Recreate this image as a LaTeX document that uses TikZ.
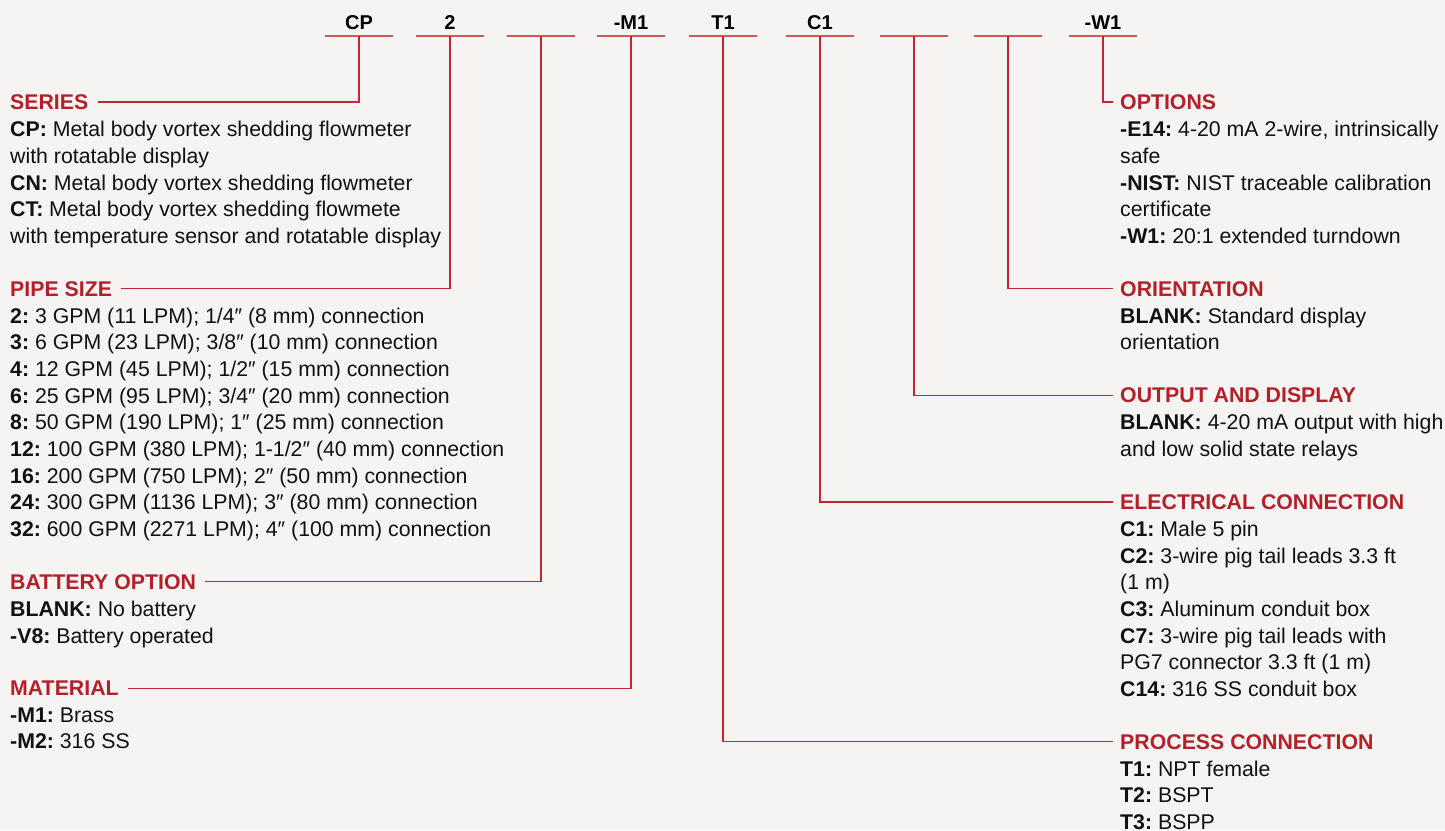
\documentclass[tikz,border=0pt]{standalone}
\usepackage{fontspec}
\setmainfont{Liberation Sans}
\usetikzlibrary{positioning}
\definecolor{bgpaper}{HTML}{F5F4F2}
\definecolor{headred}{HTML}{B3202A}
\definecolor{linered}{HTML}{C0282E}
\definecolor{ulred}{HTML}{C95A5C}
\definecolor{bodyblack}{HTML}{111111}
\frenchspacing
\tikzset{
	code/.style={font=\fontsize{20}{24}\selectfont\bfseries, minimum width=67pt,
		inner sep=0pt, text height=14pt, text depth=6pt, anchor=south},
	uline/.style={draw=ulred, line width=2.5pt},
	link/.style={draw=linered, line width=1.4pt},
	head/.style={font=\fontsize{21.3}{26.65}\selectfont\bfseries, text=headred,
		inner sep=0pt, text height=15.2pt, text depth=0pt, anchor=base west},
	body/.style={font=\fontsize{21.3}{26.65}\selectfont, text=bodyblack,
		inner sep=0pt, align=left, anchor=north west,
		execute at begin node={\rule{0pt}{16pt}}}
}

\begin{document}
\begin{tikzpicture}[x=1pt,y=-1pt]
\useasboundingbox (0,0) rectangle (1445,830);
\fill[bgpaper] (0,0) rectangle (1445,830);

%model code slots
\node[code] (codeseries) at (359,36) {CP};
\node[code] (codesize) at (450,36) {2};
\node[code] (codebattery) at (541,36) {};
\node[code] (codematerial) at (631,36) {-M1};
\node[code] (codeprocess) at (723,36) {T1};
\node[code] (codeelec) at (820,36) {C1};
\node[code] (codeoutput) at (914,36) {};
\node[code] (codeorient) at (1008,36) {};
\node[code] (codeoptions) at (1103,36) {-W1};
\foreach \n in {codeseries,codesize,codebattery,codematerial,codeprocess,codeelec,codeoutput,codeorient,codeoptions}
{
	\draw[uline] (\n.south west) -- (\n.south east);
}

%left column
\node[head] (series) at (10,109.6) {SERIES};
\node[body] (seriestext) at ([yshift=-11.5pt]series.base west) {%
\textbf{CP:} Metal body vortex shedding flowmeter\\
with rotatable display\\
\textbf{CN:} Metal body vortex shedding flowmeter\\
\textbf{CT:} Metal body vortex shedding flowmete\\
with temperature sensor and rotatable display};

\node[head] (pipesize) at (10,296.2) {PIPE SIZE};
\node[body] (pipesizetext) at ([yshift=-11.5pt]pipesize.base west) {%
\textbf{2:} 3 GPM (11 LPM); 1/4″ (8 mm) connection\\
\textbf{3:} 6 GPM (23 LPM); 3/8″ (10 mm) connection\\
\textbf{4:} 12 GPM (45 LPM); 1/2″ (15 mm) connection\\
\textbf{6:} 25 GPM (95 LPM); 3/4″ (20 mm) connection\\
\textbf{8:} 50 GPM (190 LPM); 1″ (25 mm) connection\\
\textbf{12:} 100 GPM (380 LPM); 1-1/2″ (40 mm) connection\\
\textbf{16:} 200 GPM (750 LPM); 2″ (50 mm) connection\\
\textbf{24:} 300 GPM (1136 LPM); 3″ (80 mm) connection\\
\textbf{32:} 600 GPM (2271 LPM); 4″ (100 mm) connection};

\node[head] (battery) at (10,589.3) {BATTERY OPTION};
\node[body] (batterytext) at ([yshift=-11.5pt]battery.base west) {%
\textbf{BLANK:} No battery\\
\textbf{-V8:} Battery operated};

\node[head] (material) at (10,695.9) {MATERIAL};
\node[body] (materialtext) at ([yshift=-11.5pt]material.base west) {%
\textbf{-M1:} Brass\\
\textbf{-M2:} 316 SS};

%right column
\node[head] (options) at (1120,109.6) {OPTIONS};
\node[body] (optionstext) at ([yshift=-11.5pt]options.base west) {%
\textbf{-E14:} 4-20 mA 2-wire, intrinsically\\
safe\\
\textbf{-NIST:} NIST traceable calibration\\
certificate\\
\textbf{-W1:} 20:1 extended turndown};

\node[head] (orientation) at (1120,296.2) {ORIENTATION};
\node[body] (orientationtext) at ([yshift=-11.5pt]orientation.base west) {%
\textbf{BLANK:} Standard display\\
orientation};

\node[head] (output) at (1120,402.8) {OUTPUT AND DISPLAY};
\node[body] (outputtext) at ([yshift=-11.5pt]output.base west) {%
\textbf{BLANK:} 4-20 mA output with high\\
and low solid state relays};

\node[head] (electrical) at (1120,509.4) {ELECTRICAL CONNECTION};
\node[body] (electricaltext) at ([yshift=-11.5pt]electrical.base west) {%
\textbf{C1:} Male 5 pin\\
\textbf{C2:} 3-wire pig tail leads 3.3 ft\\
(1 m)\\
\textbf{C3:} Aluminum conduit box\\
\textbf{C7:} 3-wire pig tail leads with\\
PG7 connector 3.3 ft (1 m)\\
\textbf{C14:} 316 SS conduit box};

\node[head] (process) at (1120,749.2) {PROCESS CONNECTION};
\node[body] (processtext) at ([yshift=-11.5pt]process.base west) {%
\textbf{T1:} NPT female\\
\textbf{T2:} BSPT\\
\textbf{T3:} BSPP};

% leader lines
\draw[link] (codeseries.south) |- ([xshift=9pt]series.east);
\draw[link] (codesize.south) |- ([xshift=9pt]pipesize.east);
\draw[link] (codebattery.south) |- ([xshift=9pt]battery.east);
\draw[link] (codematerial.south) |- ([xshift=9pt]material.east);
\draw[link] (codeprocess.south) |- ([xshift=-7pt]process.west);
\draw[link] (codeelec.south) |- ([xshift=-7pt]electrical.west);
\draw[link] (codeoutput.south) |- ([xshift=-7pt]output.west);
\draw[link] (codeorient.south) |- ([xshift=-7pt]orientation.west);
\draw[link] (codeoptions.south) |- ([xshift=-7pt]options.west);

\end{tikzpicture}
\end{document}
